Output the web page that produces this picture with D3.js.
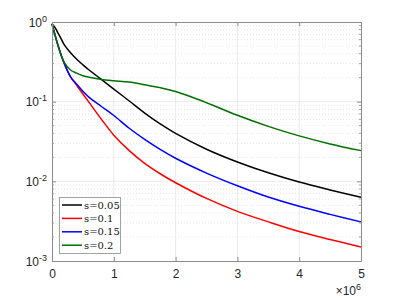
<!DOCTYPE html>
<html>
  <head>
    <meta charset="utf-8">
    <title>decay curves</title>
    <script src="https://d3js.org/d3.v7.min.js"></script>
    <style>
      body { margin: 0; background: #fff; }
      svg { display: block; }
      .tick text { font-family: "Liberation Sans", Arial, sans-serif; font-size: 12px; fill: #262626; }
      .legend text { font-family: "DejaVu Serif", "Liberation Serif", serif; font-size: 10px; fill: #111; }
    </style>
  </head>
  <body>
    <svg id="chart" width="399" height="299"></svg>
    <script>
      // data, x in units of 1e6
      const xs = [0, 0.05, 0.1, 0.15, 0.2, 0.3, 0.4, 0.5, 0.6, 0.8, 1, 1.25, 1.5, 1.75, 2, 2.5, 3, 3.5, 4, 4.5, 5];
      const s005 = [0.95, 0.85, 0.72, 0.61, 0.515, 0.41, 0.34, 0.29, 0.25, 0.19, 0.144, 0.102, 0.072, 0.0528, 0.040, 0.0253, 0.0175, 0.0128, 0.0098, 0.0078, 0.0063];
      const s01 = [0.95, 0.68, 0.5, 0.38, 0.3, 0.205, 0.16, 0.125, 0.098, 0.06, 0.038, 0.0243, 0.0168, 0.01245, 0.0096, 0.0061, 0.0042, 0.0031, 0.00234, 0.00186, 0.0015];
      const s015 = [0.95, 0.68, 0.5, 0.38, 0.3, 0.205, 0.165, 0.135, 0.113, 0.087, 0.067, 0.0464, 0.0336, 0.0252, 0.0195, 0.0127, 0.0088, 0.00635, 0.00486, 0.00385, 0.0031];
      const s02 = [0.95, 0.68, 0.5, 0.38, 0.31, 0.25, 0.228, 0.212, 0.202, 0.19, 0.183, 0.176, 0.163, 0.15, 0.134, 0.097, 0.0676, 0.049, 0.0372, 0.0295, 0.0243];
      const labels = ["s=0.05", "s=0.1", "s=0.15", "s=0.2"];
      const colors = ["#000000", "#ff0000", "#0000ff", "#007000"];
      const series = [s005, s01, s015, s02];
      const xTicks = [0, 1, 2, 3, 4, 5];
      const yTicks = [1, 0.1, 0.01, 0.001];
      const yExp = ["0", "-1", "-2", "-3"];

      const svg = d3.select("#chart");
      const margin = { left: 52, right: 38, top: 22, bottom: 38 };
      const w = 399 - margin.left - margin.right;
      const h = 299 - margin.top - margin.bottom;

      const x = d3.scaleLinear().domain([0, 5]).range([margin.left, margin.left + w]);
      const y = d3.scaleLog().domain([0.001, 1]).range([margin.top + h, margin.top]);

      // minor y values
      const minors = [];
      [0.001, 0.01, 0.1].forEach(function(d) {
        for (let k = 2; k < 10; k++) minors.push(d * k);
      });

      const grid = svg.append("g");
      grid.selectAll(".minor")
        .data(minors)
        .enter().append("line")
          .attr("x1", margin.left).attr("x2", margin.left + w)
          .attr("y1", function(d) { return y(d); }).attr("y2", function(d) { return y(d); })
          .attr("stroke", "#d4d4d4").attr("stroke-width", 0.6)
          .attr("stroke-dasharray", "1,2");
      grid.selectAll(".vmajor")
        .data(xTicks.slice(1, -1))
        .enter().append("line")
          .attr("x1", function(d) { return x(d); }).attr("x2", function(d) { return x(d); })
          .attr("y1", margin.top).attr("y2", margin.top + h)
          .attr("stroke", "#e6e6e6").attr("stroke-width", 0.8);
      grid.selectAll(".hmajor")
        .data(yTicks.slice(1, -1))
        .enter().append("line")
          .attr("x1", margin.left).attr("x2", margin.left + w)
          .attr("y1", function(d) { return y(d); }).attr("y2", function(d) { return y(d); })
          .attr("stroke", "#e6e6e6").attr("stroke-width", 0.8);

      // lines
      const line = d3.line()
        .x(function(d) { return x(d[0]); })
        .y(function(d) { return y(d[1]); })
        .curve(d3.curveCatmullRom.alpha(0.5));
      series.forEach(function(s, i) {
        svg.append("path")
          .datum(xs.map(function(v, j) { return [v, s[j]]; }))
          .attr("d", line)
          .attr("fill", "none")
          .attr("stroke", colors[i])
          .attr("stroke-width", 1.5);
      });

      // axes
      const axisColor = "#8c8c8c";
      const xAxis = d3.axisBottom(x).tickValues(xTicks).tickFormat(d3.format("d")).tickSizeInner(-4).tickSizeOuter(0).tickPadding(8);
      const xAxisTop = d3.axisTop(x).tickValues(xTicks).tickFormat("").tickSizeInner(-4).tickSizeOuter(0);
      const yAxis = d3.axisLeft(y).tickValues(yTicks).tickFormat("").tickSizeInner(-4).tickSizeOuter(0);
      const yAxisRight = d3.axisRight(y).tickValues(yTicks).tickFormat("").tickSizeInner(-4).tickSizeOuter(0);

      const gx = svg.append("g").attr("transform", "translate(0," + (margin.top + h) + ")").call(xAxis);
      const gxt = svg.append("g").attr("transform", "translate(0," + margin.top + ")").call(xAxisTop);
      const gy = svg.append("g").attr("transform", "translate(" + margin.left + ",0)").call(yAxis);
      const gyr = svg.append("g").attr("transform", "translate(" + (margin.left + w) + ",0)").call(yAxisRight);
      [gx, gxt, gy, gyr].forEach(function(g) {
        g.select(".domain").attr("stroke", axisColor);
        g.selectAll(".tick line").attr("stroke", axisColor);
      });

      // minor ticks on both y sides
      [margin.left, margin.left + w].forEach(function(px, k) {
        const dir = k === 0 ? 1 : -1;
        svg.append("g").selectAll("line")
          .data(minors)
          .enter().append("line")
            .attr("x1", px).attr("x2", px + dir * 2)
            .attr("y1", function(d) { return y(d); }).attr("y2", function(d) { return y(d); })
            .attr("stroke", axisColor).attr("stroke-width", 0.8);
      });

      // y tick labels with superscripts
      const ylab = svg.append("g").attr("class", "tick");
      yTicks.forEach(function(d, i) {
        const t = ylab.append("text")
          .attr("x", margin.left - 5)
          .attr("y", y(d) + 4.5)
          .attr("text-anchor", "end");
        t.append("tspan").text("10");
        t.append("tspan").attr("dy", -5).attr("font-size", "9px").text(yExp[i]);
      });

      // x exponent label
      const xl = svg.append("g").attr("class", "tick").append("text")
        .attr("x", margin.left + w)
        .attr("y", 295)
        .attr("text-anchor", "end");
      xl.append("tspan").text("\u00d710");
      xl.append("tspan").attr("dy", -5).attr("font-size", "9px").text("6");

      // legend
      const lg = svg.append("g").attr("class", "legend");
      lg.append("rect")
        .attr("x", 59.5).attr("y", 197.5)
        .attr("width", 61).attr("height", 56)
        .attr("fill", "#fff").attr("stroke", "#8c8c8c").attr("stroke-width", 0.8);
      labels.forEach(function(l, i) {
        const yy = 205 + i * 13.4;
        lg.append("line")
          .attr("x1", 62).attr("x2", 82)
          .attr("y1", yy).attr("y2", yy)
          .attr("stroke", colors[i]).attr("stroke-width", 1.5);
        lg.append("text")
          .attr("x", 84).attr("y", yy + 3.5)
          .text(l);
      });
    </script>
  </body>
</html>
